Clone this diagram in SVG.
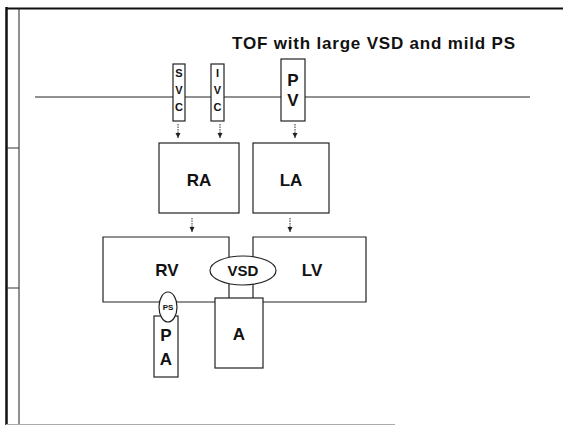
<svg xmlns="http://www.w3.org/2000/svg" width="563" height="426" viewBox="0 0 563 426">
<defs>
<marker id="ah" markerWidth="6" markerHeight="6" refX="5" refY="3" orient="auto" markerUnits="userSpaceOnUse">
<path d="M0,0.5 L5,3 L0,5.5 Z" fill="#222"/>
</marker>
<style>
.b{fill:#fff;stroke:#222;stroke-width:1.2}
.ln{fill:none;stroke:#222;stroke-width:1.2}
.t{font-family:"Liberation Sans",Arial,sans-serif;font-weight:bold;fill:#111;text-anchor:middle}
.ar{stroke:#333;stroke-width:1;stroke-dasharray:1.5 1;fill:none}
</style>
</defs>
<rect width="563" height="426" fill="#fff"/>
<g id="frame">
<line x1="6.5" y1="7" x2="6.5" y2="425" stroke="#111" stroke-width="2.5"/>
<line x1="6" y1="8.5" x2="563" y2="8.5" stroke="#111" stroke-width="2"/>
<line x1="19" y1="8" x2="19" y2="424" stroke="#222" stroke-width="1"/>
<line x1="7" y1="148" x2="19" y2="148" stroke="#333" stroke-width="1"/>
<line x1="7" y1="288" x2="19" y2="288" stroke="#333" stroke-width="1"/>
<line x1="6" y1="424.5" x2="395" y2="424.5" stroke="#aaa" stroke-width="1"/>
</g>
<text class="t" x="373.5" y="49" font-size="17" textLength="283" lengthAdjust="spacing">TOF with large VSD and mild PS</text>
<g id="connectors">
<line class="ln" x1="35" y1="97" x2="530" y2="97"/>
<line class="ar" x1="178" y1="124" x2="178" y2="138" marker-end="url(#ah)"/>
<line class="ar" x1="220" y1="124" x2="220" y2="138" marker-end="url(#ah)"/>
<line class="ar" x1="295" y1="124" x2="295" y2="138" marker-end="url(#ah)"/>
<line class="ar" x1="192" y1="218" x2="192" y2="232" marker-end="url(#ah)"/>
<line class="ar" x1="290" y1="218" x2="290" y2="232" marker-end="url(#ah)"/>
<line class="ln" x1="229" y1="284" x2="229" y2="298"/>
<line class="ln" x1="253" y1="284" x2="253" y2="298"/>
</g>
<g id="SVC">
<rect class="b" x="173" y="64" width="12" height="57"/>
<text class="t" x="179" y="77" font-size="11">S</text>
<text class="t" x="179" y="94" font-size="11">V</text>
<text class="t" x="179" y="111" font-size="11">C</text>
</g>
<g id="IVC">
<rect class="b" x="211" y="64" width="13" height="57"/>
<text class="t" x="217.5" y="77" font-size="11">I</text>
<text class="t" x="217.5" y="94" font-size="11">V</text>
<text class="t" x="217.5" y="111" font-size="11">C</text>
</g>
<g id="PV">
<rect class="b" x="281" y="59" width="24" height="62"/>
<text class="t" x="293" y="86" font-size="17">P</text>
<text class="t" x="293" y="106" font-size="17">V</text>
</g>
<g id="RA">
<rect class="b" x="159" y="143" width="80" height="70"/>
<text class="t" x="199" y="186" font-size="17">RA</text>
</g>
<g id="LA">
<rect class="b" x="253" y="143" width="76" height="70"/>
<text class="t" x="291" y="186" font-size="17">LA</text>
</g>
<g id="RV">
<path class="ln" d="M229,257 V237 H103 V302 H215"/>
<text class="t" x="167" y="276" font-size="17">RV</text>
</g>
<g id="LV">
<path class="ln" d="M253,257 V237 H366 V302 H263"/>
<text class="t" x="312" y="276" font-size="17">LV</text>
</g>
<g id="VSD">
<ellipse class="b" cx="243" cy="270.5" rx="33" ry="14.5"/>
<text class="t" x="243" y="276" font-size="15">VSD</text>
</g>
<g id="A">
<rect class="b" x="215" y="298" width="48" height="70"/>
<text class="t" x="239" y="340" font-size="17">A</text>
</g>
<g id="PA">
<rect class="b" x="154" y="316" width="24" height="61"/>
<text class="t" x="166" y="341" font-size="17">P</text>
<text class="t" x="166" y="365" font-size="17">A</text>
</g>
<g id="PS">
<ellipse class="b" cx="168" cy="307" rx="9" ry="15"/>
<text class="t" x="168" y="310" font-size="8">PS</text>
</g>
</svg>
